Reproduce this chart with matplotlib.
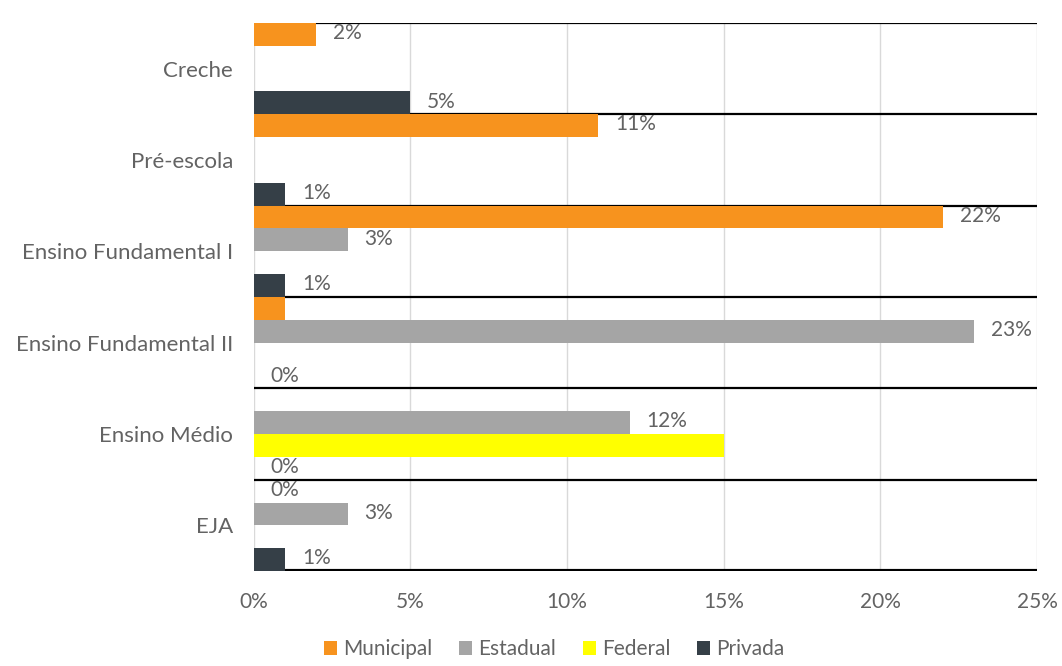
import matplotlib
matplotlib.use('Agg')
import matplotlib.pyplot as plt
from matplotlib.ticker import FuncFormatter
import numpy as np

plt.rcParams['font.family'] = ['Lato', 'DejaVu Sans']

categorias = ['Creche', 'Pré-escola', 'Ensino Fundamental I', 'Ensino Fundamental II',
              'Ensino Médio', 'EJA']
series = ['Municipal', 'Estadual', 'Federal', 'Privada']

municipal = [2, 11, 22, 1, 0, 0]
estadual = [0, 0, 3, 23, 12, 3]
federal = [0, 0, 0, 0, 15, 0]
privada = [5, 1, 1, 0, 0, 1]

# rotulos como aparecem no original (alguns faltam)
rot_municipal = ['2%', '11%', '22%', None, None, '0%']
rot_estadual = [None, None, '3%', '23%', '12%', '3%']
rot_federal = [None, None, None, None, None, None]
rot_privada = ['5%', '1%', '1%', '0%', '0%', '1%']

cores = ['#F7931E', '#A5A5A5', '#FFFF00', '#353F47']
valores = [municipal, estadual, federal, privada]
rotulos = [rot_municipal, rot_estadual, rot_federal, rot_privada]

fig = plt.figure(figsize=(10.62, 6.66), dpi=100)
ax = fig.add_axes([0.239, 0.1426, 0.7375, 0.8229])

y = np.arange(len(categorias))
h = 0.25
for j, (vals, cor, rots) in enumerate(zip(valores, cores, rotulos)):
    pos = y + (j - 1.5) * h
    ax.barh(pos, vals, height=h, color=cor, label=series[j], zorder=3)
    for p, v, r in zip(pos, vals, rots):
        if r is not None:
            ax.annotate(r, (v, p), xytext=(12, 1), textcoords='offset points',
                        va='center', ha='left', fontsize=15, color='#636363', zorder=4)

for b in np.arange(-0.5, len(categorias), 1.0):
    ax.axhline(b, color='black', lw=1.6 if b < len(categorias) - 1 else 3, zorder=2)

ax.set_xlim(0, 25)
ax.set_ylim(len(categorias) - 0.5, -0.5)
ax.set_xticks([0, 5, 10, 15, 20, 25])
ax.xaxis.set_major_formatter(FuncFormatter(lambda v, _: '%d%%' % v))
ax.set_yticks(y)
ax.set_yticklabels(categorias)
ax.grid(axis='x', color='#D9D9D9', lw=1, zorder=0)
for s in ax.spines.values():
    s.set_visible(False)
ax.tick_params(length=0, labelsize=15, colors='#636363')
ax.tick_params(axis='x', pad=15)
ax.tick_params(axis='y', pad=15, labelsize=16)

fig.legend(loc='lower center', bbox_to_anchor=(0.522, -0.018), ncol=4, frameon=False,
           fontsize=15, handlelength=0.6, handleheight=0.6, handletextpad=0.3,
           columnspacing=1.3, labelcolor='#636363')

fig.savefig('out.png', dpi=100)
